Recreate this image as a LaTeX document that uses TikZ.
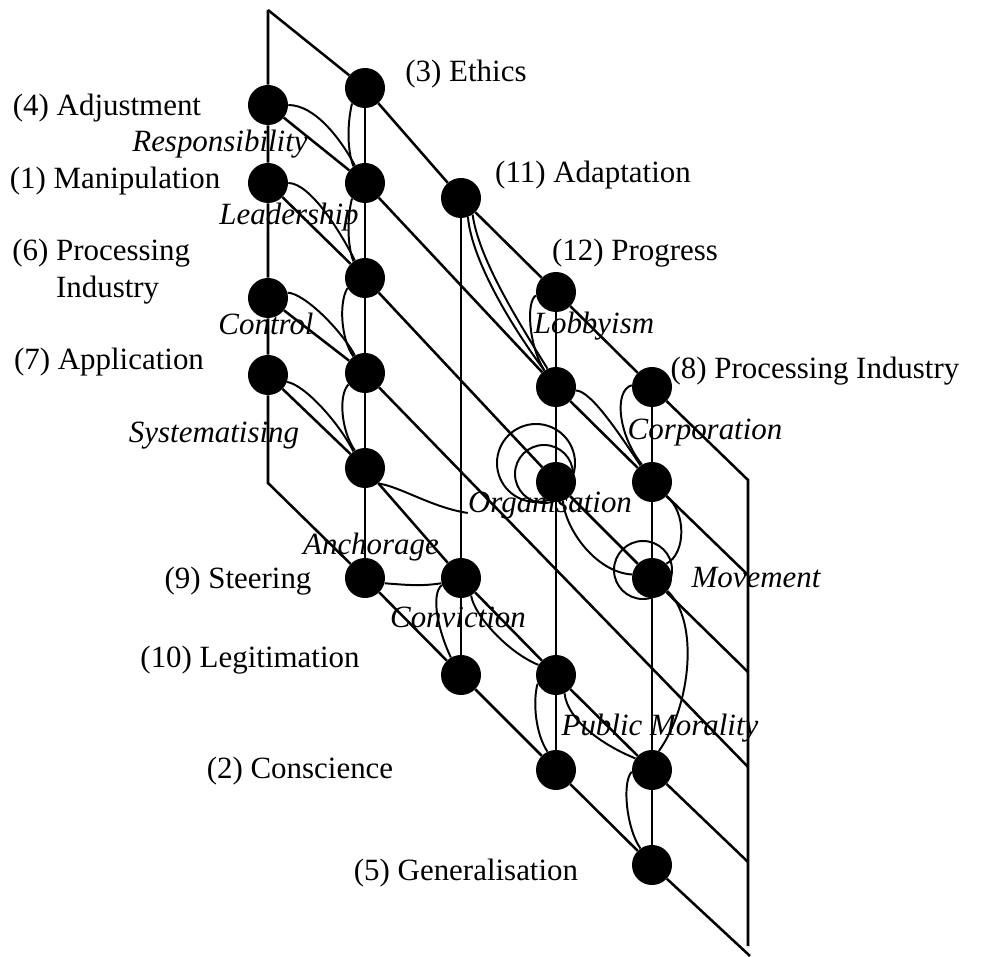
\documentclass[tikz,border=0pt]{standalone}
\usepackage{fontspec}
\setmainfont{Liberation Serif}
\tikzset{
  lat grid/.style={line width=1.8pt, line join=miter},
  lat link/.style={line width=1.4pt},
  lat dot/.style={circle, fill=black, draw=none, inner sep=0pt, minimum size=1cm},
  lat name/.style={font=\fontsize{22}{26.3}\selectfont, inner sep=0pt, align=left},
  lat term/.style={lat name, font=\fontsize{22}{26.3}\selectfont\itshape},
}
\begin{document}
\begin{tikzpicture}[x=0.025cm, y=-0.025cm]
  \useasboundingbox (0,0) rectangle (989,957);
  % lattice points, column by column
  \node[lat dot] (adj) at (268,105) {};
  \node[lat dot] (man) at (268,183) {};
  \node[lat dot] (prc) at (268,298) {};
  \node[lat dot] (app) at (268,375) {};
  \node[lat dot] (eth) at (365,88) {};
  \node[lat dot] (rsp) at (365,183) {};
  \node[lat dot] (ldr) at (365,278) {};
  \node[lat dot] (ctl) at (365,373) {};
  \node[lat dot] (sys) at (365,468) {};
  \node[lat dot] (ste) at (365,578) {};
  \node[lat dot] (ada) at (461,198) {};
  \node[lat dot] (cvc) at (461,578) {};
  \node[lat dot] (leg) at (461,675) {};
  \node[lat dot] (pro) at (556,292) {};
  \node[lat dot] (lob) at (556,387) {};
  \node[lat dot] (org) at (556,482) {};
  \node[lat dot] (mor) at (556,675) {};
  \node[lat dot] (con) at (556,770) {};
  \node[lat dot] (pin) at (652,387) {};
  \node[lat dot] (cor) at (652,482) {};
  \node[lat dot] (mov) at (652,578) {};
  \node[lat dot] (pub) at (652,770) {};
  \node[lat dot] (gen) at (652,865) {};
  % free corners and ends of the frame
  \coordinate (tl) at (268,10);
  \coordinate (bl) at (268,483);
  \coordinate (tr) at (748,480);
  \coordinate (rb) at (748,946);
  \coordinate (r1) at (748,575);
  \coordinate (r2) at (748,672);
  \coordinate (r3) at (748,767);
  \coordinate (r4) at (748,862);
  \coordinate (r5) at (750,956);
  % frame and diagonals
  \draw[lat grid] (tl) -- (eth) -- (ada) -- (pro) -- (pin) -- (tr) -- (rb);
  \draw[lat grid] (tl) -- (adj) -- (man) -- (prc) -- (app) -- (bl) -- (ste) -- (leg) -- (con) -- (gen) -- (r5);
  \draw[lat grid] (adj) -- (rsp) -- (lob) -- (cor) -- (r1);
  \draw[lat grid] (man) -- (ldr) -- (org) -- (mov) -- (r2);
  \draw[lat grid] (prc) -- (ctl) -- (r3);
  \draw[lat grid] (app) -- (sys) -- (cvc) -- (mor) -- (pub) -- (r4);
  % columns
  \draw[lat grid] (eth) -- (rsp) -- (ldr) -- (ctl) -- (sys) -- (ste);
  \draw[lat grid] (ada) -- (cvc) -- (leg);
  \draw[lat grid] (pro) -- (lob) -- (org) -- (mor) -- (con);
  \draw[lat grid] (pin) -- (cor) -- (mov) -- (pub) -- (gen);
  % numbered names
  \node[lat name] (l3) at (466,74) {(3) Ethics};
  \node[lat name] (l4) at (107,108) {(4) Adjustment};
  \node[lat name] (l1) at (115,181) {(1) Manipulation};
  \node[lat name, anchor=west] (l6) at (12,272) {(6) Processing\\\phantom{(6) }Industry};
  \node[lat name] (l7) at (109,362) {(7) Application};
  \node[lat name] (l9) at (238,581) {(9) Steering};
  \node[lat name] (l10) at (250,660) {(10) Legitimation};
  \node[lat name] (l2) at (300,771) {(2) Conscience};
  \node[lat name] (l5) at (466,873) {(5) Generalisation};
  \node[lat name] (l11) at (593,175) {(11) Adaptation};
  \node[lat name] (l12) at (635,253) {(12) Progress};
  \node[lat name] (l8) at (815,371) {(8) Processing Industry};
  % italic terms
  \node[lat term] (lrsp) at (220,144) {Responsibility};
  \node[lat term] (lldr) at (289,217) {Leadership};
  \node[lat term] (lctl) at (266,324) {Control};
  \node[lat term] (lsys) at (214,436) {Systematising};
  \node[lat term] (lanc) at (371,547) {Anchorage};
  \node[lat term] (lcvc) at (458,617) {Conviction};
  \node[lat term] (llob) at (594,326) {Lobbyism};
  \node[lat term] (lcor) at (705,433) {Corporation};
  \node[lat term] (lorg) at (550,506) {Organisation};
  \node[lat term] (lmov) at (756,578) {Movement};
  \node[lat term] (lpub) at (660,728) {Public Morality};
  % hand-drawn links
  \draw[lat link] (adj.east) .. controls +(27,0) and +(-14,-26) .. (rsp.120);
  \draw[lat link] (eth.230) .. controls +(-5,22) and +(-6,-16) .. (rsp.125);
  \draw[lat link] (man.east) .. controls +(22,0) and +(-14,-28) .. (ldr.120);
  \draw[lat link] (rsp.230) .. controls +(-5,20) and +(-6,-16) .. (ldr.125);
  \draw[lat link] (prc.15) .. controls +(16,0) and +(-14,-26) .. (ctl.120);
  \draw[lat link] (ldr.210) .. controls +(-9,15) and +(-12,-16) .. (ctl.125);
  \draw[lat link] (app.340) .. controls +(18,3) and +(-14,-28) .. (sys.125);
  \draw[lat link] (ctl.215) .. controls +(-10,10) and +(-14,-20) .. (sys.120);
  \draw[lat link] (sys.310) .. controls +(20,2) and +(-35,-5) .. (lorg.base west);
  \draw[lat link] (ada.290) .. controls +(4,45) and +(-30,-40) .. (lob.125);
  \draw[lat link] (ada.305) .. controls +(6,45) and +(-26,-42) .. (lob.115);
  \draw[lat link] (pro.190) .. controls +(-10,5) and +(-16,-25) .. (lob.125);
  \draw[lat link] (lob.350) .. controls +(15,0) and +(-20,-30) .. (cor.125);
  \draw[lat link] (pin.175) .. controls +(-18,5) and +(-24,-30) .. (cor.120);
  \draw[lat link] (org.290) .. controls +(3,30) and +(-35,-2) .. (mov.170);
  \draw[lat link] (cor.315) .. controls +(20,15) and +(20,-10) .. (mov.45);
  \draw[lat link] (mov.320) .. controls +(32,30) and +(32,-45) .. (pub.70);
  \draw[lat link] (ste.345) .. controls +(25,2) and +(-20,3) .. (cvc.195);
  \draw[lat link] (cvc.200) .. controls +(-12,10) and +(-12,-25) .. (leg.120);
  \draw[lat link] (cvc.300) .. controls +(3,20) and +(-30,-12) .. (mor.150);
  \draw[lat link] (mor.205) .. controls +(-5,18) and +(-12,-18) .. (con.115);
  \draw[lat link] (mor.295) .. controls +(3,28) and +(-30,-12) .. (pub.145);
  \draw[lat link] (pub.185) .. controls +(-10,10) and +(-14,-20) .. (gen.125);
  % loops
  \draw[lat link] (org) ++(-20,-19) circle[radius=0.975cm];
  \draw[lat link] (org) ++(-12,-8) circle[radius=0.725cm];
  \draw[lat link] (mov) ++(-9,-8) circle[radius=0.725cm];
\end{tikzpicture}
\end{document}
